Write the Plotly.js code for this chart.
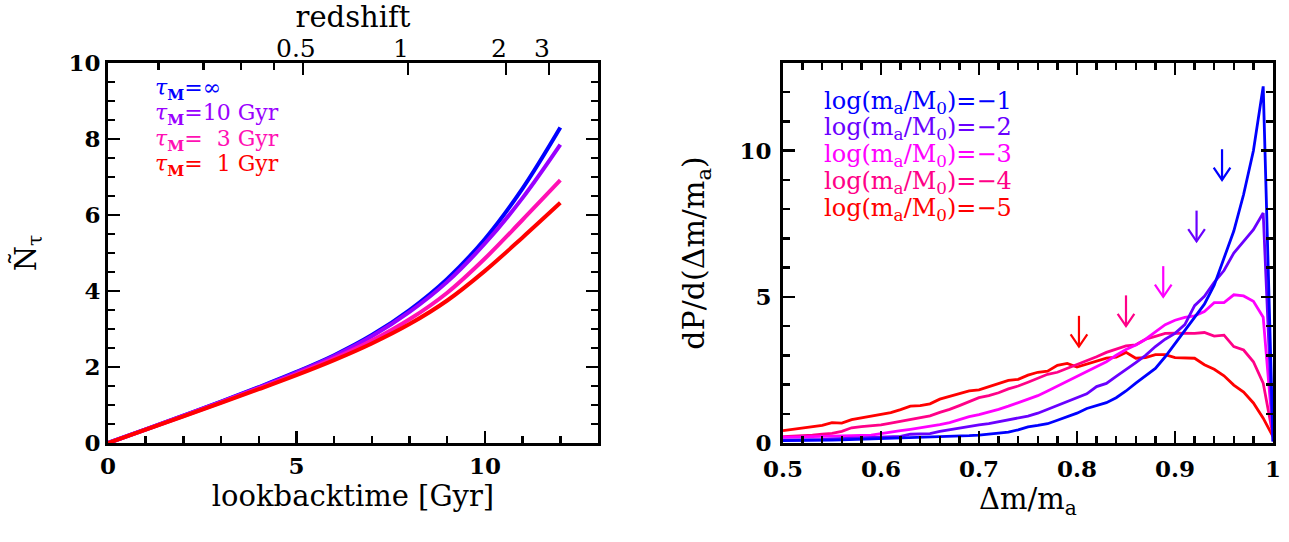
<!DOCTYPE html>
<html>
<head>
<meta charset="utf-8">
<script src="https://cdn.plot.ly/plotly-3.0.1.min.js"></script>
<style>html,body{margin:0;padding:0;background:#fff}#chart{width:1289px;height:542px}</style>
</head>
<body>
<div id="chart"></div>
<script>
// ---------- Left panel data ----------
const lookback = [0,1,2,3,4,5,6,7,8,9,10,11,12];
const nTauInf = [0,0.36,0.72,1.09,1.47,1.87,2.31,2.84,3.50,4.32,5.37,6.70,8.30];
const nTau10  = [0,0.36,0.72,1.085,1.46,1.855,2.29,2.81,3.45,4.24,5.25,6.45,7.85];
const nTau3   = [0,0.355,0.71,1.07,1.435,1.815,2.225,2.695,3.255,3.955,4.855,5.875,6.915];
const nTau1   = [0,0.35,0.70,1.055,1.415,1.785,2.18,2.62,3.13,3.75,4.53,5.41,6.32];
const leftLabels = ['\u221e','10 Gyr','\u00a0\u00a03 Gyr','\u00a0\u00a01 Gyr'];
const leftColors = ['#0000ff','#9a00ff','#ff10b4','#ff0000'];

// redshift ticks (top axis) -> lookback time
const zMajorT = [5.17, 7.96, 10.56, 11.70];
const zMajorLabel = ['0.5','1','2','3'];
const zMinorT = [1.34, 2.54, 3.53, 4.40];

// ---------- Right panel data ----------
const dm = [0.50,0.51,0.52,0.53,0.54,0.55,0.56,0.57,0.58,0.59,
            0.60,0.61,0.62,0.63,0.64,0.65,0.66,0.67,0.68,0.69,
            0.70,0.71,0.72,0.73,0.74,0.75,0.76,0.77,0.78,0.79,
            0.80,0.81,0.82,0.83,0.84,0.85,0.86,0.87,0.88,0.89,
            0.90,0.91,0.92,0.93,0.94,0.95,0.96,0.97,0.98,0.99,1.00];
const pM1 = [0.08,0.08,0.09,0.09,0.10,0.10,0.11,0.12,0.13,0.14,
             0.15,0.15,0.17,0.18,0.19,0.20,0.20,0.22,0.23,0.25,
             0.27,0.30,0.33,0.37,0.45,0.55,0.60,0.66,0.78,0.90,
             1.02,1.18,1.27,1.38,1.55,1.78,2.05,2.30,2.55,2.95,
             3.40,3.85,4.30,4.75,5.40,6.30,7.25,8.50,10.00,12.20,0.05];
const pM2 = [0.10,0.10,0.11,0.12,0.12,0.14,0.15,0.16,0.18,0.19,
             0.20,0.22,0.23,0.30,0.30,0.32,0.40,0.46,0.50,0.56,
             0.62,0.66,0.72,0.78,0.85,0.92,1.02,1.15,1.30,1.42,
             1.55,1.68,1.93,2.04,2.28,2.50,2.75,3.00,3.30,3.55,
             3.75,4.05,4.70,5.02,5.50,5.90,6.50,6.90,7.30,7.87,0.05];
const pM3 = [0.19,0.20,0.21,0.22,0.24,0.24,0.25,0.26,0.27,0.27,
             0.32,0.36,0.42,0.47,0.52,0.58,0.63,0.70,0.80,0.90,
             0.97,1.05,1.15,1.26,1.38,1.50,1.62,1.78,1.95,2.10,
             2.28,2.45,2.62,2.78,3.00,3.20,3.35,3.55,3.80,4.05,
             4.20,4.30,4.35,4.50,4.80,4.80,5.07,5.03,4.85,4.30,0.30];
const pM4 = [0.22,0.23,0.25,0.27,0.30,0.33,0.40,0.52,0.56,0.58,
             0.62,0.68,0.74,0.80,0.86,0.93,1.05,1.15,1.28,1.42,
             1.55,1.62,1.72,1.85,1.95,2.08,2.22,2.35,2.42,2.55,
             2.68,2.80,2.95,3.10,3.20,3.32,3.36,3.55,3.65,3.75,
             3.76,3.76,3.75,3.78,3.66,3.69,3.30,3.18,2.78,2.05,0.25];
const pM5 = [0.42,0.46,0.50,0.55,0.60,0.70,0.68,0.80,0.86,0.90,
             0.96,1.04,1.14,1.26,1.28,1.34,1.50,1.60,1.70,1.78,
             1.82,1.92,2.04,2.14,2.18,2.32,2.42,2.46,2.66,2.72,
             2.60,2.70,2.82,2.90,2.94,3.10,2.90,2.92,3.02,3.02,
             2.92,2.90,2.90,2.68,2.52,2.30,1.98,1.74,1.37,0.85,0.22];
const rightLogs = ['\u22121','\u22122','\u22123','\u22124','\u22125'];
const rightColors = ['#0000ff','#6a00ff','#ff00ff','#ff0088','#ff0000'];
// arrow markers (x position, tip value)
const arrowX   = [0.948, 0.922, 0.888, 0.850, 0.802];
const arrowTip = [9.0, 6.9, 5.0, 4.0, 3.3];

// ---------- Build ----------
const FONT = 'DejaVu Serif';
const traces = [];
// carrier trace so the top (redshift) axis is drawn
traces.push({x: zMajorT, y: zMajorT.map(() => null), type: 'scatter', mode: 'lines',
  xaxis: 'x2', yaxis: 'y', hoverinfo: 'skip', showlegend: false});
const leftSeries = [nTauInf, nTau10, nTau3, nTau1];
leftSeries.forEach((ys, i) => {
  traces.push({x: lookback, y: ys, type: 'scatter', mode: 'lines',
    line: {color: leftColors[i], width: 4, shape: 'spline', smoothing: 1},
    xaxis: 'x', yaxis: 'y', hoverinfo: 'skip'});
});
const rightSeries = [pM1, pM2, pM3, pM4, pM5];
for (let i = rightSeries.length - 1; i >= 0; i--) {
  traces.push({x: dm, y: rightSeries[i], type: 'scatter', mode: 'lines',
    line: {color: rightColors[i], width: 2.8},
    xaxis: 'x3', yaxis: 'y2', hoverinfo: 'skip'});
}
const stem = 1.05, headDx = 0.0085, headDy = 0.42;
arrowX.forEach((ax, i) => {
  const t = arrowTip[i];
  traces.push({
    x: [ax, ax, null, ax - headDx, ax, ax + headDx],
    y: [t + stem, t, null, t + headDy, t, t + headDy],
    type: 'scatter', mode: 'lines', line: {color: rightColors[i], width: 2.2},
    xaxis: 'x3', yaxis: 'y2', hoverinfo: 'skip'});
});

const W = 1289, H = 542;
const leftDom = [108 / W, 598 / W];
const rightDom = [783 / W, 1273 / W];
const yDom = [1 - 443 / H, 1 - 63 / H];

const tickFont = {family: FONT, size: 23, color: '#000', weight: 'bold'};
const titleFont = {family: FONT, size: 29, color: '#000'};
const axBase = {
  showgrid: false, zeroline: false, showline: true, linecolor: '#000', linewidth: 3,
  ticks: 'inside', ticklen: 12, tickwidth: 2.5, tickcolor: '#000',
  tickfont: tickFont
};

const annotations = [];
leftLabels.forEach((lab, i) => {
  annotations.push({
    xref: 'paper', yref: 'paper', x: 153 / W, y: 1 - (89 + i * 25.5) / H,
    xanchor: 'left', yanchor: 'middle', showarrow: false,
    text: '<i>\u03c4</i><sub><b>M</b></sub>=' + lab,
    font: {family: FONT, size: 22, color: leftColors[i]}
  });
});
rightLogs.forEach((lab, i) => {
  annotations.push({
    xref: 'paper', yref: 'paper', x: 822 / W, y: 1 - (102 + i * 26.8) / H,
    xanchor: 'left', yanchor: 'middle', showarrow: false,
    text: 'log(m<sub>a</sub>/M<sub>0</sub>)=' + lab,
    font: {family: FONT, size: 24, color: rightColors[i]}
  });
});

const layout = {
  width: W, height: H,
  margin: {l: 0, r: 0, t: 0, b: 0},
  paper_bgcolor: '#fff', plot_bgcolor: '#fff',
  showlegend: false,
  xaxis: Object.assign({}, axBase, {
    domain: leftDom, anchor: 'y', range: [0, 13], dtick: 5, tick0: 0,
    mirror: true,
    minor: {dtick: 1, ticks: 'inside', ticklen: 7, tickwidth: 2.5, tickcolor: '#000'},
    title: {text: 'lookbacktime [Gyr]', font: titleFont, standoff: 4}
  }),
  xaxis2: {
    overlaying: 'x', side: 'top', anchor: 'y', range: [0, 13],
    showgrid: false, zeroline: false, showline: false,
    tickmode: 'array', tickvals: zMajorT, ticktext: zMajorLabel,
    ticks: 'inside', ticklen: 12, tickwidth: 2.5, tickcolor: '#000',
    ticklabelshift: -7,
    tickfont: {family: FONT, size: 25, color: '#000'},
    minor: {tickmode: 'array', tickvals: zMinorT, ticks: 'inside', ticklen: 7, tickwidth: 2.5, tickcolor: '#000'},
    title: {text: 'redshift', font: titleFont, standoff: 0}
  },
  yaxis: Object.assign({}, axBase, {
    domain: yDom, anchor: 'x', range: [0, 10], dtick: 2, tick0: 0,
    mirror: 'ticks',
    minor: {dtick: 0.5, ticks: 'inside', ticklen: 7, tickwidth: 2.5, tickcolor: '#000'},
    title: {text: '\u00d1<sub>\u03c4</sub>', font: titleFont, standoff: 24}
  }),
  xaxis3: Object.assign({}, axBase, {
    domain: rightDom, anchor: 'y2', range: [0.5, 1], dtick: 0.1, tick0: 0.5,
    mirror: 'ticks', ticklabelstandoff: 3,
    minor: {dtick: 0.02, ticks: 'inside', ticklen: 7, tickwidth: 2.5, tickcolor: '#000'},
    title: {text: '\u0394m/m<sub>a</sub>', font: titleFont, standoff: 2}
  }),
  yaxis2: Object.assign({}, axBase, {
    domain: yDom, anchor: 'x3', range: [0, 13], dtick: 5, tick0: 0,
    mirror: 'ticks', ticklabelstandoff: 4,
    minor: {dtick: 1, ticks: 'inside', ticklen: 7, tickwidth: 2.5, tickcolor: '#000'},
    title: {text: 'dP/d(\u0394m/m<sub>a</sub>)', font: {family: FONT, size: 30, color: '#000'}, standoff: 26}
  }),
  annotations: annotations
};

Plotly.newPlot('chart', traces, layout, {staticPlot: true, displayModeBar: false});
</script>
</body>
</html>
